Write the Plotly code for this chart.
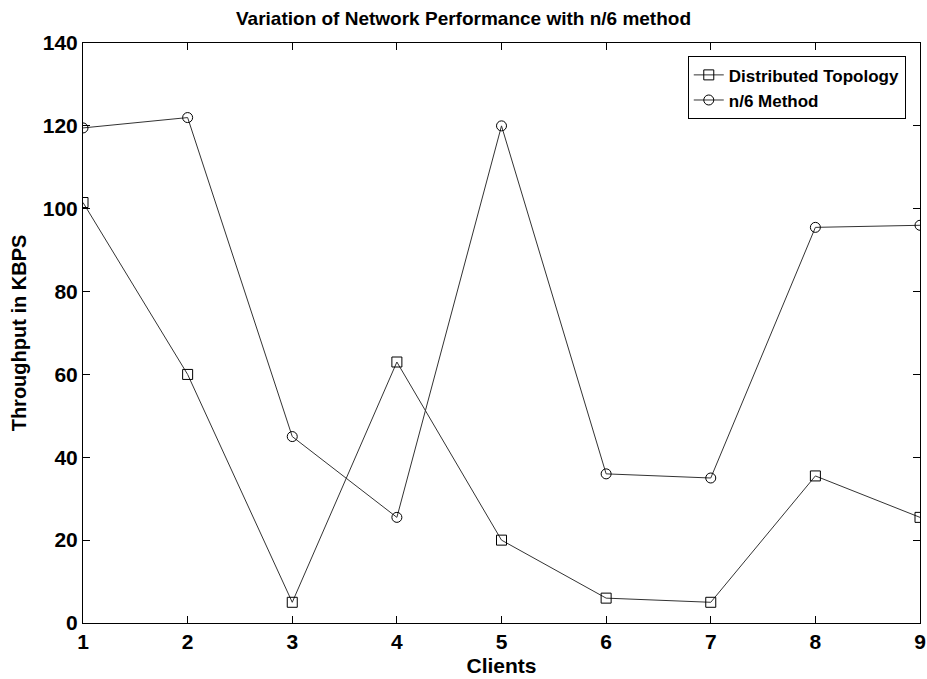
import plotly.graph_objects as go

clients = [1, 2, 3, 4, 5, 6, 7, 8, 9]
distributed = [101.5, 60, 5, 63, 20, 6, 5, 35.5, 25.5]
n6_method = [119.5, 122, 45, 25.5, 120, 36, 35, 95.5, 96]

font_family = "Liberation Sans, Arial, sans-serif"

fig = go.Figure()
fig.add_trace(go.Scatter(
    x=clients, y=distributed, mode="lines+markers", name="<b>Distributed Topology</b>",
    line=dict(color="#333333", width=1),
    marker=dict(symbol="square-open", size=10, color="black", line=dict(width=1)),
))
fig.add_trace(go.Scatter(
    x=clients, y=n6_method, mode="lines+markers", name="<b>n/6 Method</b>",
    line=dict(color="#333333", width=1),
    marker=dict(symbol="circle-open", size=10, color="black", line=dict(width=1)),
))

fig.update_layout(
    width=927, height=679,
    margin=dict(l=83, r=7, t=43, b=56),
    paper_bgcolor="white", plot_bgcolor="white",
    font=dict(family=font_family, color="black"),
    title=dict(text="<b>Variation of Network Performance with n/6 method</b>",
               x=0.5, xanchor="center", y=1 - 18 / 679, yanchor="middle",
               font=dict(size=19, family=font_family)),
    showlegend=True,
    legend=dict(x=0.983, y=0.977, xanchor="right", yanchor="top",
                bgcolor="white", bordercolor="black", borderwidth=1,
                font=dict(size=17, family=font_family), tracegroupgap=0,
                itemwidth=30),
)
fig.update_xaxes(
    range=[1, 9], dtick=1, tick0=1, showgrid=False, zeroline=False,
    showline=True, linecolor="black", linewidth=1, mirror="ticks",
    ticks="inside", ticklen=7, tickcolor="black", automargin=False,
    tickfont=dict(size=21, family=font_family),
    tickprefix="<b>", ticksuffix="</b>",
    title=dict(text="<b>Clients</b>", font=dict(size=21), standoff=6),
)
fig.update_yaxes(
    range=[0, 140], dtick=20, showgrid=False, zeroline=False,
    showline=True, linecolor="black", linewidth=1, mirror="ticks",
    ticks="inside", ticklen=7, tickcolor="black", automargin=False,
    tickfont=dict(size=21, family=font_family),
    tickprefix="<b>", ticksuffix="</b>",
    title=dict(text="<b>Throughput in KBPS</b>", font=dict(size=20), standoff=10),
)

fig.write_html("out.html")
